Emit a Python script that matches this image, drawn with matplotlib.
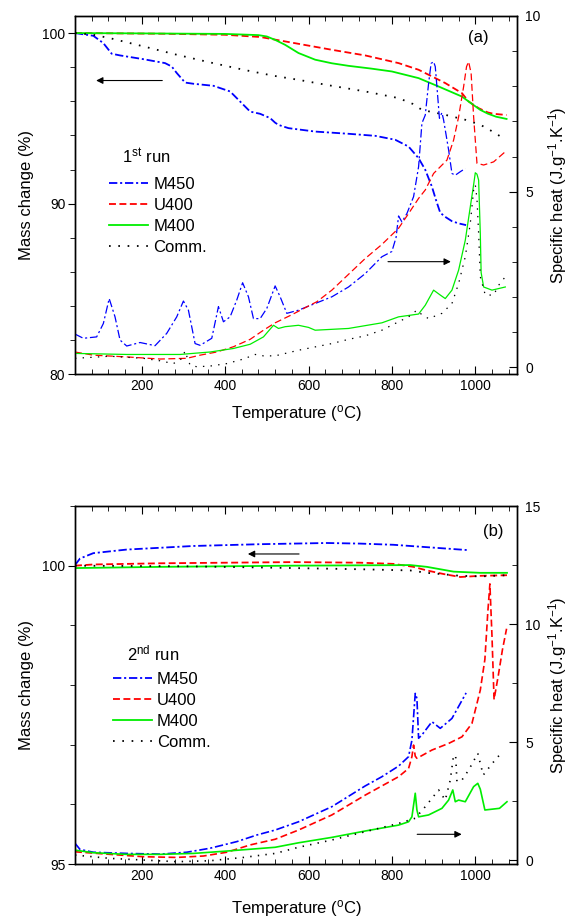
import matplotlib
matplotlib.use('Agg')
import matplotlib.pyplot as plt
from matplotlib.ticker import MultipleLocator

plt.rcParams['font.family'] = ['Liberation Sans', 'DejaVu Sans']
plt.rcParams['mathtext.fontset'] = 'custom'
plt.rcParams['mathtext.rm'] = 'Liberation Sans'
plt.rcParams['mathtext.it'] = 'Liberation Sans'
plt.rcParams['mathtext.default'] = 'regular'
plt.rcParams['lines.scale_dashes'] = False

names = ['M450', 'U400', 'M400', 'Comm.']

# ---- (a) 1st run : mass change (%) ----
t_a_m450 = [40, 84, 108, 128, 148, 204, 256, 272, 284, 304, 324, 372, 412, 436, 460, 484, 508, 520,
            528, 552, 616, 696, 760, 808, 840, 864, 880, 896, 906, 916, 930, 944, 960, 978]
w_a_m450 = [100, 99.84, 99.41, 98.79, 98.69, 98.47, 98.24, 98.04, 97.66, 97.1, 97.03, 96.91, 96.58,
            95.99, 95.4, 95.27, 95.02, 94.75, 94.62, 94.43, 94.23, 94.1, 93.98, 93.75, 93.35, 92.67,
            91.99, 91.0, 90.2, 89.47, 89.2, 88.98, 88.85, 88.75]
t_a_u400 = [40, 150, 256, 400, 484, 512, 576, 656, 736, 816, 864, 896, 928, 968, 984, 1008, 1030, 1044, 1075]
w_a_u400 = [100, 99.98, 99.96, 99.9, 99.77, 99.65, 99.37, 99.02, 98.69, 98.24, 97.85, 97.46, 97.07,
            96.48, 95.99, 95.6, 95.35, 95.27, 95.2]
t_a_m400 = [40, 200, 400, 480, 500, 520, 544, 576, 616, 656, 696, 750, 800, 864, 912, 968, 992, 1012,
            1030, 1050, 1075]
w_a_m400 = [100, 99.98, 99.95, 99.88, 99.8, 99.6, 99.31, 98.83, 98.44, 98.23, 98.08, 97.92, 97.75,
            97.36, 96.87, 96.28, 95.85, 95.5, 95.28, 95.1, 94.97]
t_a_comm = [40, 84, 124, 204, 284, 364, 444, 516, 576, 656, 736, 816, 850, 872, 928, 976, 1012, 1040, 1070]
w_a_comm = [100, 99.9, 99.7, 99.22, 98.73, 98.28, 97.85, 97.5, 97.26, 96.91, 96.58, 96.19, 95.85,
            95.5, 95.21, 94.92, 94.63, 94.25, 93.8]

# ---- (a) 1st run : specific heat ----
t_a_cp_m450 = [40, 60, 92, 108, 122, 136, 148, 164, 196, 232, 260, 284, 300, 312, 328, 340, 368, 384,
               396, 412, 428, 442, 456, 468, 484, 500, 520, 532, 548, 576, 616, 656, 696, 736, 776,
               800, 810, 816, 824, 836, 852, 864, 872, 880, 888, 894, 900, 904, 908, 914, 920, 924,
               936, 944, 952, 964, 976]
cp_a_m450 = [0.95, 0.83, 0.87, 1.25, 1.96, 1.44, 0.78, 0.61, 0.71, 0.62, 0.97, 1.44, 1.89, 1.63, 0.68,
             0.63, 0.83, 1.73, 1.30, 1.44, 1.92, 2.41, 2.01, 1.39, 1.39, 1.68, 2.32, 2.01, 1.54, 1.63,
             1.82, 2.01, 2.29, 2.67, 3.15, 3.3, 3.7, 4.31, 4.14, 4.38, 4.86, 5.71, 6.95, 7.18, 8.08,
             8.65, 8.7, 8.56, 7.99, 7.09, 7.25, 7.04, 6.19, 5.52, 5.47, 5.57, 5.66]
t_a_cp_u400 = [40, 84, 164, 244, 308, 340, 380, 420, 460, 492, 520, 560, 600, 620, 656, 696, 736, 776,
               816, 840, 864, 880, 900, 932, 948, 960, 972, 979, 984, 990, 996, 1004, 1020, 1044, 1072]
cp_a_u400 = [0.44, 0.35, 0.30, 0.24, 0.26, 0.35, 0.44, 0.59, 0.80, 1.06, 1.27, 1.5, 1.75, 1.87, 2.2,
             2.65, 3.1, 3.5, 3.96, 4.38, 4.81, 5.05, 5.52, 5.90, 6.47, 7.13, 7.99, 8.56, 8.7, 8.37,
             7.13, 5.81, 5.76, 5.85, 6.14]
t_a_cp_m400 = [40, 164, 292, 364, 420, 460, 492, 505, 516, 528, 544, 576, 600, 616, 696, 776, 816, 864,
               880, 900, 916, 928, 944, 960, 976, 988, 996, 1000, 1004, 1008, 1012, 1014, 1020, 1040, 1072]
cp_a_m400 = [0.40, 0.37, 0.37, 0.44, 0.54, 0.66, 0.87, 1.05, 1.20, 1.11, 1.16, 1.20, 1.14, 1.06, 1.11,
             1.27, 1.44, 1.52, 1.77, 2.20, 2.06, 1.96, 2.20, 2.77, 3.62, 4.57, 5.2, 5.54, 5.5, 5.33,
             3.81, 2.7, 2.29, 2.20, 2.29]
t_a_cp_comm = [40, 124, 204, 244, 276, 296, 304, 310, 316, 332, 364, 404, 444, 472, 492, 520, 576, 656,
               696, 736, 776, 816, 840, 860, 872, 888, 920, 944, 960, 976, 988, 996, 1000, 1004, 1008,
               1012, 1024, 1044, 1056, 1072]
cp_a_comm = [0.26, 0.32, 0.26, 0.19, 0.11, 0.25, 0.47, 0.25, 0.07, 0.02, 0.04, 0.11, 0.24, 0.37, 0.33,
             0.33, 0.49, 0.68, 0.80, 0.90, 1.06, 1.30, 1.44, 1.63, 1.5, 1.39, 1.54, 1.82, 2.39, 3.15,
             4.10, 5.05, 5.2, 4.8, 3.81, 2.58, 2.06, 2.06, 2.34, 2.58]

# ---- (b) 2nd run : mass change (%) ----
t_b_m450 = [40, 52, 84, 164, 324, 484, 644, 724, 804, 884, 984]
w_b_m450 = [100.01, 100.12, 100.21, 100.27, 100.33, 100.36, 100.38, 100.37, 100.35, 100.31, 100.26]
t_b_u400 = [40, 84, 244, 564, 724, 804, 852, 884, 924, 964, 1012, 1076]
w_b_u400 = [100.0, 100.02, 100.04, 100.06, 100.05, 100.03, 99.98, 99.92, 99.86, 99.81, 99.83, 99.84]
t_b_m400 = [40, 244, 564, 844, 884, 924, 948, 1012, 1076]
w_b_m400 = [99.96, 99.98, 100.0, 100.01, 99.98, 99.93, 99.9, 99.88, 99.88]
t_b_comm = [40, 300, 484, 724, 844, 884, 964, 1012, 1076]
w_b_comm = [100.0, 99.99, 99.97, 99.94, 99.92, 99.88, 99.83, 99.82, 99.84]

# ---- (b) 2nd run : specific heat ----
t_b_cp_m450 = [40, 52, 84, 164, 244, 308, 364, 428, 476, 520, 576, 656, 736, 776, 816, 840, 848, 856,
               860, 864, 872, 896, 916, 944, 978]
cp_b_m450 = [0.71, 0.45, 0.33, 0.28, 0.25, 0.33, 0.50, 0.78, 1.06, 1.27, 1.62, 2.26, 3.14, 3.53, 3.98,
             4.38, 5.08, 7.06, 6.85, 5.16, 5.30, 5.86, 5.58, 6.0, 7.08]
t_b_cp_u400 = [40, 124, 204, 284, 348, 404, 460, 520, 576, 656, 736, 816, 840, 848, 852, 856, 860, 896,
               936, 968, 992, 1012, 1023, 1030, 1035, 1040, 1045, 1055, 1065, 1075]
cp_b_u400 = [0.35, 0.24, 0.14, 0.11, 0.17, 0.33, 0.64, 0.88, 1.27, 1.91, 2.75, 3.53, 3.88, 4.38, 4.87,
             4.4, 4.31, 4.66, 4.94, 5.22, 5.79, 7.2, 8.5, 10.5, 11.7, 9.5, 6.8, 7.8, 8.9, 9.8]
t_b_cp_m400 = [40, 84, 164, 244, 324, 404, 520, 576, 656, 736, 816, 840, 848, 856, 860, 864, 888, 920,
               936, 946, 952, 960, 976, 996, 1006, 1012, 1023, 1058, 1076]
cp_b_m400 = [0.42, 0.31, 0.24, 0.24, 0.28, 0.38, 0.54, 0.73, 0.96, 1.23, 1.48, 1.62, 1.83, 2.83, 2.12,
             1.83, 1.91, 2.19, 2.54, 2.97, 2.47, 2.54, 2.47, 3.11, 3.25, 3.0, 2.12, 2.19, 2.47]
t_b_cp_comm = [40, 124, 204, 284, 364, 444, 520, 576, 656, 736, 816, 856, 880, 912, 928, 940, 948, 953,
               956, 968, 984, 1006, 1019, 1041, 1063]
cp_b_comm = [0.21, 0.07, 0.0, -0.07, -0.03, 0.11, 0.28, 0.54, 0.85, 1.20, 1.55, 1.77, 2.26, 2.97, 2.54,
             3.39, 4.45, 4.38, 3.32, 3.39, 3.81, 4.52, 3.6, 4.10, 4.55]

colors = ['#0000ff', '#ff0000', '#00ee00', '#000000']
dash_mass = [(6, 2, 1.5, 2), (5, 2.5), (), (1.2, 5.5)]
dash_cp = [(6, 2, 1.5, 2), (5, 2.5), (), (1, 4.5)]


def draw(ax, ax2, mass, heat, thick_cp, xpad):
    lines = []
    for (t, w), c, d in zip(mass, colors, dash_mass):
        ln, = ax.plot(t, w, color=c, lw=1.3)
        if d:
            ln.set_dashes(d)
        lines.append(ln)
    for (t, cp), c, d in zip(heat, colors, dash_cp):
        ln, = ax2.plot(t, cp, color=c, lw=1.2 if thick_cp else 0.9)
        if d:
            ln.set_dashes(d)
    ax.set_xlim(40, 1100)
    ax.xaxis.set_major_locator(MultipleLocator(200))
    ax.xaxis.set_minor_locator(MultipleLocator(40))
    ax.tick_params(axis='x', which='both', direction='in', top=True, labelsize=10)
    ax.tick_params(axis='x', which='major', length=6)
    ax.tick_params(axis='x', which='minor', length=3.5)
    ax.tick_params(axis='y', which='both', direction='out', labelsize=10, pad=2)
    ax.tick_params(axis='y', which='major', length=5)
    ax.tick_params(axis='y', which='minor', length=3.5)
    ax2.tick_params(axis='y', which='both', direction='in', labelsize=10, pad=6)
    ax2.tick_params(axis='y', which='major', length=6)
    ax2.tick_params(axis='y', which='minor', length=3.5)
    ax.set_xlabel('Temperature ($^{o}$C)', fontsize=12, labelpad=xpad)
    ax.set_ylabel('Mass change (%)', fontsize=12, labelpad=6)
    ax2.set_ylabel('Specific heat (J.g$^{-1}$.K$^{-1}$)', fontsize=12, labelpad=4)
    for a in (ax, ax2):
        for s in a.spines.values():
            s.set_linewidth(1.0)
    return lines


fig = plt.figure(figsize=(5.69, 9.19), dpi=100)

# panel (a)
ax = fig.add_axes([0.1318, 0.5925, 0.7768, 0.3901])
ax2 = ax.twinx()
lines = draw(ax, ax2,
             [(t_a_m450, w_a_m450), (t_a_u400, w_a_u400), (t_a_m400, w_a_m400), (t_a_comm, w_a_comm)],
             [(t_a_cp_m450, cp_a_m450), (t_a_cp_u400, cp_a_u400), (t_a_cp_m400, cp_a_m400),
              (t_a_cp_comm, cp_a_comm)], False, 7)
ax.set_ylim(80, 101)
ax.yaxis.set_major_locator(MultipleLocator(10))
ax.yaxis.set_minor_locator(MultipleLocator(2))
ax2.set_ylim(-0.2, 10)
ax2.yaxis.set_major_locator(MultipleLocator(5))
ax2.yaxis.set_minor_locator(MultipleLocator(1))
ax.text(0.912, 0.941, '(a)', transform=ax.transAxes, fontsize=12, ha='center', va='center')
ax.text(0.1055, 0.6075, '1$^{st}$ run', transform=ax.transAxes, fontsize=12, ha='left', va='center')
ax.legend(lines, names, loc='upper left', bbox_to_anchor=(0.0776, 0.550), frameon=False, fontsize=12,
          handlelength=2.34, handletextpad=0.3, labelspacing=0.36, borderpad=0, borderaxespad=0)
ax.annotate('', xy=(84, 97.22), xytext=(256, 97.22),
            arrowprops=dict(arrowstyle='-|>', color='k', lw=0.8, mutation_scale=10))
ax2.annotate('', xy=(948, 3.01), xytext=(784, 3.01),
             arrowprops=dict(arrowstyle='-|>', color='k', lw=0.8, mutation_scale=10))

# panel (b)
bx = fig.add_axes([0.1318, 0.0598, 0.7768, 0.3896])
bx2 = bx.twinx()
lines = draw(bx, bx2,
             [(t_b_m450, w_b_m450), (t_b_u400, w_b_u400), (t_b_m400, w_b_m400), (t_b_comm, w_b_comm)],
             [(t_b_cp_m450, cp_b_m450), (t_b_cp_u400, cp_b_u400), (t_b_cp_m400, cp_b_m400),
              (t_b_cp_comm, cp_b_comm)], True, 11)
bx.set_ylim(95, 101)
bx.yaxis.set_major_locator(MultipleLocator(5))
bx.yaxis.set_minor_locator(MultipleLocator(1))
bx2.set_ylim(-0.17, 15)
bx2.yaxis.set_major_locator(MultipleLocator(5))
bx2.yaxis.set_minor_locator(MultipleLocator(2.5))
bx.text(0.946, 0.928, '(b)', transform=bx.transAxes, fontsize=12, ha='center', va='center')
bx.text(0.117, 0.5885, '2$^{nd}$ run', transform=bx.transAxes, fontsize=12, ha='left', va='center')
bx.legend(lines, names, loc='upper left', bbox_to_anchor=(0.0853, 0.5374), frameon=False, fontsize=12,
          handlelength=2.34, handletextpad=0.3, labelspacing=0.36, borderpad=0, borderaxespad=0)
bx.annotate('', xy=(448, 100.196), xytext=(584, 100.196),
            arrowprops=dict(arrowstyle='-|>', color='k', lw=0.8, mutation_scale=10))
bx2.annotate('', xy=(974, 1.09), xytext=(854, 1.09),
             arrowprops=dict(arrowstyle='-|>', color='k', lw=0.8, mutation_scale=10))

fig.savefig('out.png', dpi=100)
